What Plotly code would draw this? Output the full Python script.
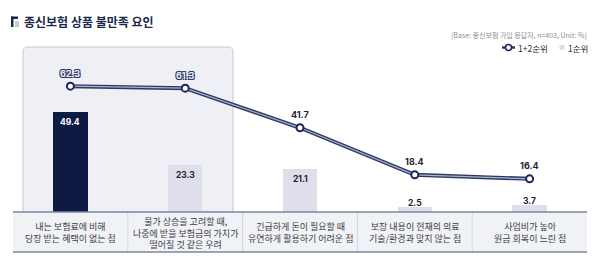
import plotly.graph_objects as go

# ---- data ----
categories = [
    "내는 보험료에 비해<br>당장 받는 혜택이 없는 점",
    "물가 상승을 고려할 때,<br>나중에 받을 보험금의 가치가<br>떨어질 것 같은 우려",
    "긴급하게 돈이 필요할 때<br>유연하게 활용하기 어려운 점",
    "보장 내용이 현재의 의료<br>기술/환경과 맞지 않는 점",
    "사업비가 높아<br>원금 회복이 느린 점",
]
rank12 = [62.3, 61.3, 41.7, 18.4, 16.4]
rank1 = [49.4, 23.3, 21.1, 2.5, 3.7]
title_text = "종신보험 상품 불만족 요인"
base_text = "[Base: 종신보험 가입 응답자, n=403, Unit: %]"
series_names = ["1+2순위", "1순위"]

# ---- style ----
W, H = 600, 257
ML, MR, MT, MB = 13, 13, 30, 45
PW = W - ML - MR
PH = H - MT - MB
PX_PER_UNIT = 2.02
YMAX = PH / PX_PER_UNIT

NAVY = "#0d1b44"
LIGHT_BAR = "#dedfeb"
LINE_DARK = "#2b3866"
LINE_INNER = "#aab1c8"
MARK_LINE = "#1b2856"
BOX_FILL = "#efeff6"
BOX_LINE = "#c3c7da"
BAND_FILL = "#f1f2f6"
BAND_LINE = "#7c87a3"
SEP_LINE = "#d3d7e2"
KR = "Noto Sans CJK KR"
NUM = "Inter"

def px_x(px):
    return (px - ML) / PW

def px_y(py):
    return (MT + PH - py) / PH

x = list(range(len(categories)))
bar_colors = [NAVY] + [LIGHT_BAR] * (len(categories) - 1)

fig = go.Figure()

fig.add_trace(go.Bar(
    x=x, y=rank1, width=0.3, name=series_names[1],
    marker=dict(color=bar_colors, line=dict(width=0)), hoverinfo="skip",
))
fig.add_trace(go.Scatter(
    x=x, y=rank12, mode="lines", name=series_names[0],
    line=dict(color=LINE_DARK, width=4), hoverinfo="skip",
))
fig.add_trace(go.Scatter(
    x=x, y=rank12, mode="lines", line=dict(color=LINE_INNER, width=1.3),
    hoverinfo="skip",
))
fig.add_trace(go.Scatter(
    x=x, y=rank12, mode="markers",
    marker=dict(size=7, color="white", line=dict(color=MARK_LINE, width=2)),
    hoverinfo="skip",
))

shapes = []
# highlight box with rounded top corners
x0, x1 = px_x(23), px_x(233)
y0, y1 = 0, px_y(47)
rx, ry = 5 / PW, 5 / PH
shapes.append(dict(
    type="path", xref="paper", yref="paper", layer="below",
    path=(f"M {x0},{y0} L {x0},{y1-ry} Q {x0},{y1} {x0+rx},{y1} "
          f"L {x1-rx},{y1} Q {x1},{y1} {x1},{y1-ry} L {x1},{y0} Z"),
    fillcolor=BOX_FILL, line=dict(color=BOX_LINE, width=1),
))
# label band
band_bottom = px_y(252)
shapes.append(dict(type="rect", xref="paper", yref="paper", x0=0, x1=1,
                   y0=band_bottom, y1=0, fillcolor=BAND_FILL, line=dict(width=0)))
for i in range(1, len(categories)):
    shapes.append(dict(type="line", xref="x", yref="paper", x0=i - 0.5, x1=i - 0.5,
                       y0=band_bottom, y1=0, line=dict(color=SEP_LINE, width=1)))
shapes.append(dict(type="line", xref="paper", yref="paper", x0=0, x1=1, y0=0, y1=0,
                   line=dict(color=BAND_LINE, width=1.5)))
shapes.append(dict(type="line", xref="paper", yref="paper", x0=0, x1=1,
                   y0=band_bottom, y1=band_bottom, line=dict(color=BAND_LINE, width=1.5)))
# title marker
shapes.append(dict(type="rect", xref="paper", yref="paper", x0=px_x(15), x1=px_x(19),
                   y0=px_y(27), y1=px_y(21), fillcolor="#c9ccd8", line=dict(width=0)))
shapes.append(dict(type="rect", xref="paper", yref="paper", x0=px_x(11), x1=px_x(13.5),
                   y0=px_y(27), y1=px_y(16.5), fillcolor="#1b2a4a", line=dict(width=0)))
shapes.append(dict(type="rect", xref="paper", yref="paper", x0=px_x(11), x1=px_x(18),
                   y0=px_y(19), y1=px_y(16.5), fillcolor="#1b2a4a", line=dict(width=0)))
# legend swatches
LEG_Y = 47.5
shapes.append(dict(type="line", xref="paper", yref="paper", x0=px_x(502), x1=px_x(515),
                   y0=px_y(LEG_Y), y1=px_y(LEG_Y), line=dict(color=LINE_DARK, width=2.5)))
shapes.append(dict(type="circle", xref="paper", yref="paper", x0=px_x(505.5), x1=px_x(511.5),
                   y0=px_y(LEG_Y + 3), y1=px_y(LEG_Y - 3), fillcolor="white",
                   line=dict(color=MARK_LINE, width=1.5)))
shapes.append(dict(type="rect", xref="paper", yref="paper", x0=px_x(559.5), x1=px_x(564.5),
                   y0=px_y(LEG_Y + 2.5), y1=px_y(LEG_Y - 2.5), fillcolor=LIGHT_BAR,
                   line=dict(width=0)))

annotations = []
annotations.append(dict(xref="paper", yref="paper", x=px_x(22), y=px_y(21.5),
                        xanchor="left", yanchor="middle", showarrow=False, text=f"<b>{title_text}</b>",
                        font=dict(family=KR, size=12, color="#1b2a4a")))
annotations.append(dict(xref="paper", yref="paper", x=px_x(589), y=px_y(35),
                        xanchor="right", yanchor="middle", showarrow=False, text=base_text,
                        font=dict(family=KR, size=7, color="#8a8d99")))
annotations.append(dict(xref="paper", yref="paper", x=px_x(516), y=px_y(LEG_Y),
                        xanchor="left", yanchor="middle", showarrow=False, text=series_names[0],
                        font=dict(family=KR, size=8.5, color="#2a2d3a")))
annotations.append(dict(xref="paper", yref="paper", x=px_x(566), y=px_y(LEG_Y),
                        xanchor="left", yanchor="middle", showarrow=False, text=series_names[1],
                        font=dict(family=KR, size=8.5, color="#2a2d3a")))
for i, lab in enumerate(categories):
    annotations.append(dict(xref="x", yref="paper", x=i, y=px_y(232.5),
                            xanchor="center", yanchor="middle", showarrow=False, text=lab,
                            font=dict(family=KR, size=9, color="#3a3d47")))
outline = ("-1px -1px 0 #2a3766, 1px -1px 0 #2a3766, -1px 1px 0 #2a3766, "
           "1px 1px 0 #2a3766")
for i, v in enumerate(rank12):
    inside_box = i < 2
    annotations.append(dict(
        xref="x", yref="y", x=i, y=v, yshift=13, xanchor="center", yanchor="middle",
        showarrow=False, text=f"<b>{v:.1f}</b>",
        font=dict(family=NUM, size=9, color="#eef0f6" if inside_box else "#1f2233",
                  shadow=outline if inside_box else "none"),
    ))
for i, v in enumerate(rank1):
    big = v > 10
    annotations.append(dict(
        xref="x", yref="y", x=i, y=v, yshift=-10 if big else 4,
        xanchor="center", yanchor="middle", showarrow=False, text=f"<b>{v:.1f}</b>",
        font=dict(family=NUM, size=8.5, color="white" if i == 0 else "#1f2233"),
    ))

fig.update_layout(
    width=W, height=H, margin=dict(l=ML, r=MR, t=MT, b=MB, pad=0),
    paper_bgcolor="white", plot_bgcolor="rgba(0,0,0,0)",
    xaxis=dict(range=[-0.5, len(categories) - 0.5], visible=False, fixedrange=True),
    yaxis=dict(range=[0, YMAX], visible=False, fixedrange=True),
    barmode="overlay", bargap=0,
    shapes=shapes, annotations=annotations,
    showlegend=False,
    font=dict(family=KR),
)

fig.write_html("out.html")
